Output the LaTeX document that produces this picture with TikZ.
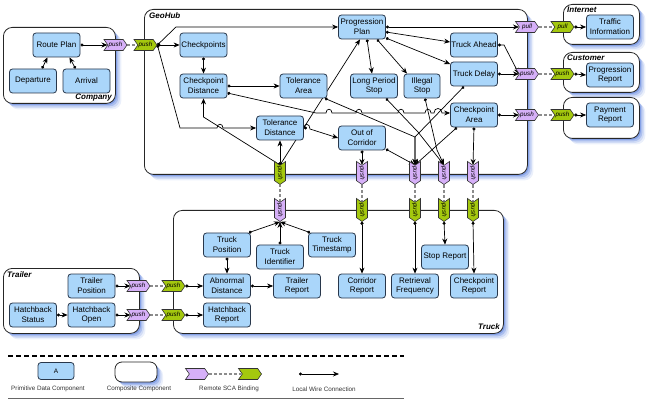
\documentclass[tikz,border=0pt]{standalone}
\usepackage{fontspec}
\setmainfont{Liberation Sans}
\usetikzlibrary{shapes.symbols,shadows,arrows.meta}
\definecolor{primfill}{RGB}{170,214,250}
\definecolor{primdraw}{RGB}{40,55,75}
\definecolor{purp}{RGB}{214,176,248}
\definecolor{grn}{RGB}{164,200,14}
\definecolor{glow}{RGB}{60,105,215}
\pgfdeclarelayer{bg}
\pgfdeclarelayer{fg}
\pgfsetlayers{bg,main,fg}
\tikzset{
 prim/.style={draw=primdraw, fill=primfill, line width=0.8pt, rounded corners=3pt, minimum width=47pt, minimum height=24pt, inner sep=0.5pt, align=center, font=\fontsize{8}{9.8}\selectfont},
 comp/.style={draw=black!85, fill=white, line width=0.8pt, rounded corners=9pt, anchor=north west, inner sep=0pt,
   general shadow={shadow xshift=6pt, shadow yshift=-6pt, fill=glow, opacity=0.1},
   general shadow={shadow xshift=4.5pt, shadow yshift=-4.5pt, fill=glow, opacity=0.15},
   general shadow={shadow xshift=3pt, shadow yshift=-3pt, fill=glow, opacity=0.25},
   general shadow={shadow xshift=1.5pt, shadow yshift=-1.5pt, fill=glow, opacity=0.35}},
 complabel/.style={font=\fontsize{8}{9}\selectfont\bfseries\itshape, inner sep=0pt},
 sig/.style={shape=signal, signal from=west, signal to=east, signal pointer angle=110, draw=black!80, line width=0.6pt, minimum width=23pt, minimum height=11pt, inner sep=0pt, font=\fontsize{6.3}{7}\selectfont\itshape},
 ppush/.style={sig, fill=purp},
 gpush/.style={sig, fill=grn},
 vert/.style={rotate=-90},
 wire/.style={line width=0.7pt, {Circle[length=3pt]}-{Stealth[length=6pt,width=5pt]}},
 remote/.style={draw=black!45, line width=1.3pt, dash pattern=on 3pt off 2pt},
 leglbl/.style={font=\fontsize{6.3}{7}\selectfont, text=black!80, inner sep=0pt},
}
\begin{document}
\begin{tikzpicture}[x=1pt,y=-1pt]
\useasboundingbox (0,0) rectangle (656,406);
% composite boxes
\begin{pgfonlayer}{bg}
\node[comp, minimum width=112pt, minimum height=76pt] (company) at (3,27) {};
\node[comp, minimum width=383pt, minimum height=165pt] (geohub) at (144,9) {};
\node[comp, minimum width=76pt, minimum height=40pt] (internet) at (563,4) {};
\node[comp, minimum width=76pt, minimum height=40pt] (customer) at (563,52) {};
\node[comp, minimum width=76pt, minimum height=41pt] (payment) at (563,97) {};
\node[comp, minimum width=136pt, minimum height=65pt] (trailer) at (3,268) {};
\node[comp, minimum width=330pt, minimum height=123pt] (truck) at (173,210) {};
\node[complabel, anchor=east] (companylbl) at (112,98) {Company};
\node[complabel, anchor=west] (geohublbl) at (149,16) {GeoHub};
\node[complabel, anchor=west] (internetlbl) at (567,10) {Internet};
\node[complabel, anchor=west] (customerlbl) at (567,58) {Customer};
\node[complabel, anchor=west] (trailerlbl) at (7,275) {Trailer};
\node[complabel, anchor=east] (trucklbl) at (500,327) {Truck};
\end{pgfonlayer}
\begin{pgfonlayer}{fg}
% Company
\node[prim] (rp) at (56.5,45) {Route Plan};
\node[prim] (dep) at (33,81) {Departure};
\node[prim] (arr) at (86.5,81) {Arrival};
% GeoHub
\node[prim] (chk) at (203.5,45) {Checkpoints};
\node[prim] (cpd) at (203.5,86) {Checkpoint\\Distance};
\node[prim] (tola) at (303.5,86) {Tolerance\\Area};
\node[prim] (told) at (280,128) {Tolerance\\Distance};
\node[prim] (pp) at (362,27) {Progression\\Plan};
\node[prim] (lps) at (374,86) {Long Period\\Stop};
\node[prim, minimum width=36pt] (ills) at (422,86) {Illegal\\Stop};
\node[prim] (tra) at (474,45) {Truck Ahead};
\node[prim] (trd) at (474,74) {Truck Delay};
\node[prim] (cpa) at (474,115) {Checkpoint\\Area};
\node[prim] (ooc) at (362,138) {Out of\\Corridor};
% right
\node[prim] (tinfo) at (610,27) {Traffic\\Information};
\node[prim] (prep) at (610,75) {Progression\\Report};
\node[prim] (payrep) at (610,115) {Payment\\Report};
% Truck
\node[prim] (tpos) at (227,245) {Truck\\Position};
\node[prim] (tid) at (280,257) {Truck\\Identifier};
\node[prim] (tts) at (332,245) {Truck\\Timestamp};
\node[prim] (abd) at (227,286) {Abnormal\\Distance};
\node[prim] (trr) at (297,286) {Trailer\\Report};
\node[prim] (hbr) at (227,315) {Hatchback\\Report};
\node[prim] (cor) at (362,286) {Corridor\\Report};
\node[prim] (rf) at (415,286) {Retrieval\\Frequency};
\node[prim] (sr) at (445,257) {Stop Report};
\node[prim] (cpr) at (474,286) {Checkpoint\\Report};
% Trailer
\node[prim] (tpo) at (91.5,286) {Trailer\\Position};
\node[prim] (hbs) at (33,315) {Hatchback\\Status};
\node[prim] (hbo) at (91.5,315) {Hatchback\\Open};
% bindings
\node[ppush] (cpush) at (115.5,45) {push};
\node[gpush] (cgpush) at (145.5,45) {push};
\node[gpush, vert] (gp0) at (280,173) {push};
\node[ppush, vert] (pb1) at (362,173) {push};
\node[ppush, vert] (pb2) at (415,173) {push};
\node[ppush, vert] (pb3) at (444,173) {push};
\node[ppush, vert] (pb4) at (473,173) {push};
\node[ppush, vert] (tp0) at (280,210) {push};
\node[gpush, vert] (tg1) at (362,210) {push};
\node[gpush, vert] (tg2) at (415,210) {push};
\node[gpush, vert] (tg3) at (444,210) {push};
\node[gpush, vert] (tg4) at (473,210) {push};
\node[ppush] (pull1) at (527,27) {pull};
\node[gpush] (pullg) at (562.5,27) {pull};
\node[ppush] (pp2) at (527,74) {push};
\node[gpush] (pg2) at (562.5,74) {push};
\node[ppush] (pp3) at (527,115) {push};
\node[gpush] (pg3) at (562.5,115) {push};
\node[ppush] (trp1) at (138.5,286) {push};
\node[gpush] (trg1) at (173.5,286) {push};
\node[ppush] (trp2) at (138.5,315) {push};
\node[gpush] (trg2) at (173.5,315) {push};
\end{pgfonlayer}
% Company wires
\draw[wire] ([xshift=9pt]dep.north) -- ([xshift=-9pt]rp.south);
\draw[wire] ([xshift=-11pt]arr.north) -- ([xshift=13pt]rp.south);
\draw[wire] (rp.east) -- (cpush.west);
\draw[remote] (cpush.east) -- (cgpush.west);
% GeoHub wires
\draw[wire] (cgpush.east) -- (176,27) -- (pp.west);
\draw[wire] (cgpush.east) -- (chk.west);
\draw[wire] (cgpush.east) -- (180,128) -- (217,128) .. controls (217,123) and (223,123) .. (223,128) -- (told.west);
\draw[wire] (chk.south) -- (cpd.north);
\draw[wire] (cpd.east) -- (tola.west);
\draw[wire] ([yshift=-7pt]cpd.east) -- (316,113) -- (326,113) .. controls (326,108) and (332,108) .. (332,113)
  -- (356,113) .. controls (356,108) and (362,108) .. (362,113)
  -- (398,113) .. controls (398,108) and (404,108) .. (404,113) -- (425,113) .. controls (425,108) and (431,108) .. (431,113)
  -- (434,113) .. controls (434,107) and (442,107) .. (442,113) -- ([yshift=2pt]cpa.west);
\draw[wire] (gp0.west) -- (told.south);
\draw[wire] (gp0.west) -- (203.5,117) -- (cpd.south);
\draw[wire] (gp0.west) -- ([xshift=-2pt]pp.south);
\draw[wire] (told.east) -- (304,128) .. controls (304,123) and (310,123) .. (310,129) -- (ooc.west);
\draw[wire] (ooc.south) -- (pb1.west);
\draw[wire] (tola.-30) -- (415,137) -- (pb2.west);
\draw[wire] (ooc.-25) -- (pb2.west);
\draw[wire] ([xshift=-10pt]trd.south) -- (415,137) -- (pb2.west);
\draw[wire] ([xshift=-17pt]cpa.south) -- (pb2.west);
\draw[wire] ([xshift=12pt]lps.south) -- (418,132) -- (pb3.west);
\draw[wire] ([xshift=3pt]ills.south) -- (437,150) -- (pb3.west);
\draw[wire] (cpa.south) -- (pb4.west);
\draw[wire] ([xshift=5pt]pp.south) -- ([xshift=-2pt]lps.north);
\draw[wire] ([xshift=15pt]pp.south) -- ([xshift=-15pt]ills.north);
\draw[wire] ([yshift=-5pt]pp.east) -- ([yshift=3pt]tra.west);
\draw[wire] ([yshift=-11pt]pp.east) -- ([yshift=10pt]trd.west);
\draw[wire] (pp.east) -- (pull1.west);
\draw[wire] (tra.east) -- (504,45) -- (pp2.west);
\draw[wire] (trd.east) -- (pp2.west);
\draw[wire] (cpa.east) -- (pp3.west);
% external
\draw[remote] (pull1.east) -- (pullg.west);
\draw[remote] (pp2.east) -- (pg2.west);
\draw[remote] (pp3.east) -- (pg3.west);
\draw[wire] (pullg.east) -- (tinfo.west);
\draw[wire] (pg2.east) -- (prep.west);
\draw[wire] (pg3.east) -- (payrep.west);
% vertical remote bindings
\draw[remote] (tp0.west) -- (gp0.east);
\draw[remote] (pb1.east) -- (tg1.west);
\draw[remote] (pb2.east) -- (tg2.west);
\draw[remote] (pb3.east) -- (tg3.west);
\draw[remote] (pb4.east) -- (tg4.west);
% Truck wires
\draw[wire] ([xshift=-2pt]tpos.north east) -- (tp0.east);
\draw[wire] (tid.north) -- (tp0.east);
\draw[wire] ([xshift=2pt]tts.north west) -- (tp0.east);
\draw[wire] (tpos.south) -- (abd.north);
\draw[wire] (trg1.east) -- (abd.west);
\draw[wire] (abd.east) -- (trr.west);
\draw[wire] (trg2.east) -- (hbr.west);
\draw[wire] (tg1.east) -- (cor.north);
\draw[wire] (tg2.east) -- (rf.north);
\draw[wire] (tg3.east) -- (sr.north);
\draw[wire] (tg4.east) -- (cpr.north);
% Trailer wires
\draw[wire] (tpo.east) -- (trp1.west);
\draw[wire] (hbo.east) -- (trp2.west);
\draw[wire] (hbs.east) -- (hbo.west);
\draw[remote] (trp1.east) -- (trg1.west);
\draw[remote] (trp2.east) -- (trg2.west);
% Legend
\coordinate (dl1) at (8,356);
\coordinate (dl2) at (404,356);
\draw[line width=1.5pt, dash pattern=on 5pt off 3pt] (dl1) -- (dl2);
\node[prim, minimum width=36pt, minimum height=17pt, font=\fontsize{6.5}{7}\selectfont] (legA) at (56,371) {A};
\node[comp, anchor=center, minimum width=42pt, minimum height=20pt, rounded corners=7pt] (legC) at (136,372) {};
\node[ppush] (legP) at (197,374) {};
\node[gpush] (legG) at (250,374) {};
\draw[remote] (legP.east) -- (legG.west);
\coordinate (legW1) at (299,374);
\coordinate (legW2) at (339,374);
\draw[wire] (legW1) -- (legW2);
\node[leglbl] (l1) at (48,389) {Primitive Data Component};
\node[leglbl] (l2) at (139,389) {Composite Component};
\node[leglbl] (l3) at (229,389) {Remote SCA Binding};
\node[leglbl] (l4) at (324,389) {Local Wire Connection};
\coordinate (bl1) at (8,398);
\coordinate (bl2) at (404,398);
\draw[black!60, line width=0.8pt] (bl1) -- (bl2);
\end{tikzpicture}
\end{document}
